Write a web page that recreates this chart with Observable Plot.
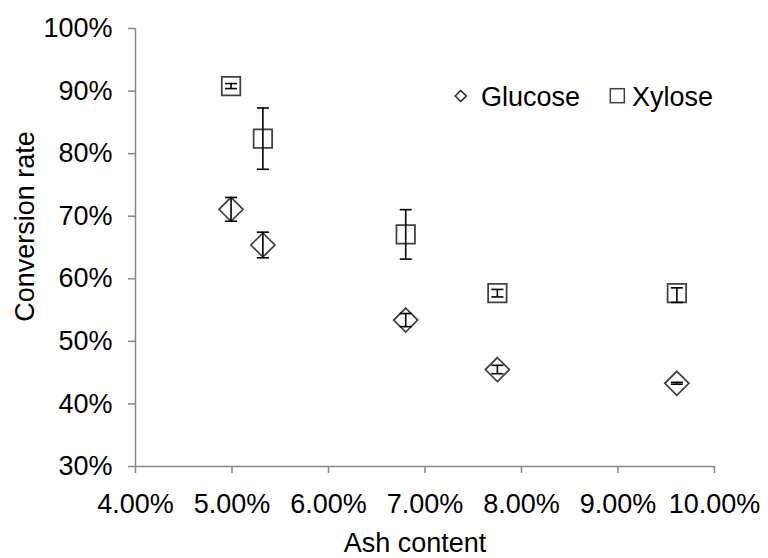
<!DOCTYPE html>
<html>
<head>
<meta charset="utf-8">
<script src="https://cdn.jsdelivr.net/npm/d3@7"></script>
<script src="https://cdn.jsdelivr.net/npm/@observablehq/plot@0.6"></script>
<style>
  html, body { margin: 0; padding: 0; background: #fff; }
  #wrap { position: relative; width: 768px; height: 558px; }
  #legend { position: absolute; left: 0; top: 0; pointer-events: none; }
</style>
</head>
<body>
<div id="wrap"></div>
<script>
// ---- data ----
const ashContent    = [0.0499, 0.0532, 0.0680, 0.0775, 0.0961];
const glucose       = [0.711, 0.654, 0.534, 0.455, 0.433];
const glucoseErrUp  = [0.019, 0.0205, 0.0105, 0.0067, 0.0015];
const glucoseErrLow = [0.019, 0.0205, 0.0105, 0.0067, 0.0015];
const xylose        = [0.908, 0.824, 0.671, 0.577, 0.577];
const xyloseErrUp   = [0.004, 0.049, 0.0395, 0.006, 0.0085];
const xyloseErrLow  = [0.004, 0.049, 0.0395, 0.006, 0.0148];
const xTicks = [0.04, 0.05, 0.06, 0.07, 0.08, 0.09, 0.10];
const yTicks = [0.3, 0.4, 0.5, 0.6, 0.7, 0.8, 0.9, 1.0];
const seriesNames = ["Glucose", "Xylose"];

const gData = ashContent.map((x, i) => ({x, y: glucose[i], up: glucoseErrUp[i], lo: glucoseErrLow[i]}));
const xData = ashContent.map((x, i) => ({x, y: xylose[i], up: xyloseErrUp[i], lo: xyloseErrLow[i]}));
const allData = gData.concat(xData);

// custom symbols where r = half-size in pixels
const half = size => Math.sqrt(size / Math.PI);
const diamond = {draw(c, size) { const r = half(size); c.moveTo(0, -r); c.lineTo(r, 0); c.lineTo(0, r); c.lineTo(-r, 0); c.closePath(); }};
const square  = {draw(c, size) { const r = half(size); c.moveTo(-r, -r); c.lineTo(r, -r); c.lineTo(r, r); c.lineTo(-r, r); c.closePath(); }};
const cap     = {draw(c, size) { const r = half(size); c.moveTo(-r, 0); c.lineTo(r, 0); }};

const font = "'Liberation Sans', Arial, sans-serif";
const axisGrey = "#868686";
const fs = 27;

const chart = Plot.plot({
  width: 768,
  height: 558,
  marginLeft: 135,
  marginRight: 54,
  marginTop: 28,
  marginBottom: 92,
  style: {fontFamily: font, fontSize: fs + "px", background: "#fff", color: "#000", overflow: "visible"},
  x: {domain: [0.04, 0.10]},
  y: {domain: [0.3, 1.0]},
  marks: [
    Plot.axisY({ticks: yTicks, tickFormat: d3.format(".0%"), tickSize: 7, tickPadding: 16,
      stroke: axisGrey, strokeWidth: 1.5, fill: "#000", fontSize: fs, label: null}),
    Plot.axisX({ticks: xTicks, tickFormat: d3.format(".2%"), tickSize: 7, tickPadding: 20,
      stroke: axisGrey, strokeWidth: 1.5, fill: "#000", fontSize: fs, label: null}),
    Plot.ruleX([0.04], {stroke: axisGrey, strokeWidth: 1.5}),
    Plot.ruleY([0.3], {stroke: axisGrey, strokeWidth: 1.5}),
    Plot.text(["Ash content"], {frameAnchor: "bottom", text: d => d, lineAnchor: "top", dy: 66, dx: -10,
      fontSize: fs, fill: "#000"}),
    Plot.text(["Conversion rate"], {frameAnchor: "left", text: d => d, rotate: -90, dx: -110, dy: -21,
      lineAnchor: "middle", textAnchor: "middle", fontSize: fs, fill: "#000"}),
    // markers
    Plot.dot(gData, {x: "x", y: "y", symbol: diamond, r: 12, stroke: "#404040", strokeWidth: 1.75, fill: "none"}),
    Plot.dot(xData, {x: "x", y: "y", symbol: square, r: 9.25, stroke: "#404040", strokeWidth: 1.75, fill: "none"}),
    // error bars
    Plot.ruleX(allData, {x: "x", y1: d => d.y - d.lo, y2: d => d.y + d.up, stroke: "#000", strokeWidth: 1.6}),
    Plot.dot(allData, {x: "x", y: d => d.y + d.up, symbol: cap, r: 6, stroke: "#000", strokeWidth: 1.6}),
    Plot.dot(allData, {x: "x", y: d => d.y - d.lo, symbol: cap, r: 6, stroke: "#000", strokeWidth: 1.6})
  ]
});

const wrap = document.getElementById("wrap");
wrap.appendChild(chart);

// legend overlay
const ns = "http://www.w3.org/2000/svg";
const leg = document.createElementNS(ns, "svg");
leg.setAttribute("id", "legend");
leg.setAttribute("width", 768);
leg.setAttribute("height", 558);
leg.innerHTML = `
  <path d="M460.7,90.5 L466.2,96 L460.7,101.5 L455.2,96 Z" fill="none" stroke="#222" stroke-width="1.5"/>
  <text x="481" y="105.5" font-family="${font}" font-size="${fs}" fill="#000">${seriesNames[0]}</text>
  <rect x="610.3" y="88.7" width="14" height="14" fill="none" stroke="#404040" stroke-width="1.5"/>
  <text x="632" y="105.5" font-family="${font}" font-size="${fs}" fill="#000">${seriesNames[1]}</text>
`;
wrap.appendChild(leg);
</script>
</body>
</html>
